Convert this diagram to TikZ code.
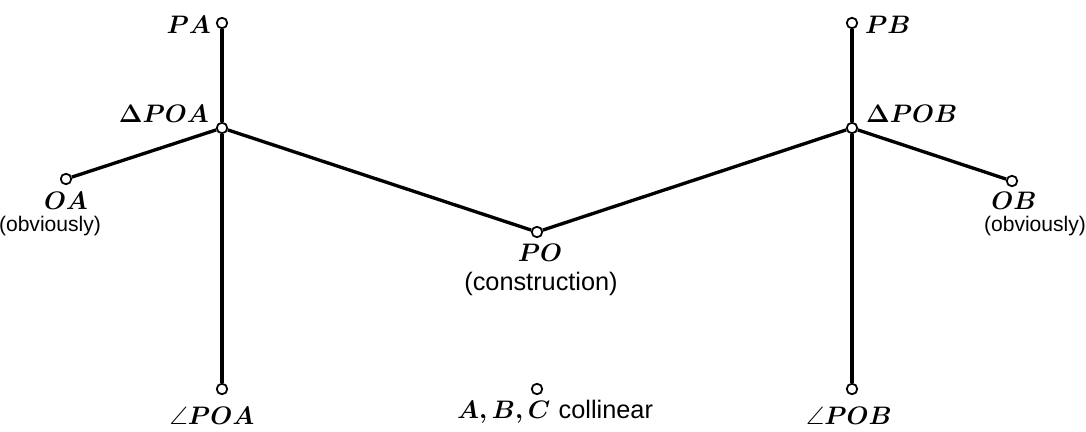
\documentclass[tikz,border=0pt]{standalone}
\usepackage{fontspec}
\setsansfont{Liberation Sans}
\usepackage{amsmath, amssymb}
\usetikzlibrary{positioning}

\begin{document}
\begin{tikzpicture}[
    x=0.02cm, y=-0.02cm,
    every node/.append style={font=\Large},
  ]

  \tikzset{
    stmt/.style={circle, draw=black, fill=white, line width=1pt,
      minimum size=0.21cm, inner sep=0pt},
    link/.style={line width=1.9pt},
    mathlabel/.style={inner sep=1pt, font=\Large\boldmath},
    notelabel/.style={inner sep=1pt, font=\Large\sffamily},
    sidenote/.style={inner sep=1pt, font=\large\sffamily},
  }

  \useasboundingbox (0,0) rectangle (1086,432);

  %% ---------------- STATEMENTS ----------------
  \node[stmt] (pa)   at (222,  23) {};
  \node[stmt] (tpoa) at (222, 128) {};
  \node[stmt] (oa)   at ( 66, 179) {};
  \node[stmt] (apoa) at (222, 389) {};
  \node[stmt] (po)   at (537, 232) {};
  \node[stmt] (abc)  at (537, 389) {};
  \node[stmt] (pb)   at (852,  23) {};
  \node[stmt] (tpob) at (852, 128) {};
  \node[stmt] (ob)   at (1012, 181) {};
  \node[stmt] (apob) at (852, 389) {};

  %% ---------------- LINKS ----------------
  \draw[link] (pa) -- (tpoa);
  \draw[link] (tpoa) -- (apoa);
  \draw[link] (oa) -- (tpoa);
  \draw[link] (tpoa) -- (po);
  \draw[link] (po) -- (tpob);
  \draw[link] (pb) -- (tpob);
  \draw[link] (tpob) -- (apob);
  \draw[link] (tpob) -- (ob);

  %% ---------------- LABELS ----------------
  % left side
  \node[mathlabel, anchor=east] (pa-lbl) at (213, 25) {$PA$};
  \node[mathlabel, anchor=east] (tpoa-lbl) at (211, 114) {$\Delta POA$};
  \node[mathlabel] (oa-lbl) at (66, 201) {$OA$};
  \node[sidenote] (oa-note) at (50, 226) {(obviously)};
  \node[mathlabel] (apoa-lbl) at (212, 416) {$\angle POA$};
  % middle
  \node[mathlabel] (po-lbl) at (540, 253) {$PO$};
  \node[notelabel] (po-note) at (541, 284) {(construction)};
  \node[mathlabel] (abc-lbl) at (555, 412) {$A, B, C$ \sffamily collinear};
  % right side
  \node[mathlabel, anchor=west] (pb-lbl) at (863, 25) {$PB$};
  \node[mathlabel, anchor=west] (tpob-lbl) at (864, 114) {$\Delta POB$};
  \node[mathlabel] (ob-lbl) at (1014, 201) {$OB$};
  \node[sidenote] (ob-note) at (1035, 226) {(obviously)};
  \node[mathlabel] (apob-lbl) at (849, 416) {$\angle POB$};

\end{tikzpicture}
\end{document}
